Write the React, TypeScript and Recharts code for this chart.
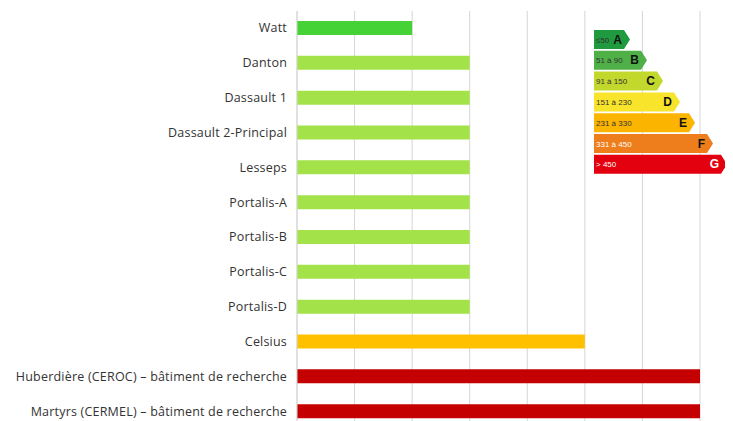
import { BarChart, Bar, XAxis, YAxis, CartesianGrid, Cell } from "recharts";

// Bâtiments et classe énergétique (1 = A ... 7 = G)
const BUILDINGS = [
  "Watt",
  "Danton",
  "Dassault 1",
  "Dassault 2-Principal",
  "Lesseps",
  "Portalis-A",
  "Portalis-B",
  "Portalis-C",
  "Portalis-D",
  "Celsius",
  "Huberdière (CEROC) – bâtiment de recherche",
  "Martyrs (CERMEL) – bâtiment de recherche",
];
const CLASS_INDEX = [2, 3, 3, 3, 3, 3, 3, 3, 3, 5, 7, 7];
const BAR_COLORS: Record<number, string> = {
  2: "#44d236",
  3: "#a4e24a",
  5: "#ffc000",
  7: "#c40000",
};
const X_TICKS = [0, 1, 2, 3, 4, 5, 6, 7];

// Étiquette énergie
const LABEL_LETTERS = ["A", "B", "C", "D", "E", "F", "G"];
const LABEL_RANGES = ["≤50", "51 à 90", "91 à 150", "151 à 230", "231 à 330", "331 à 450", "> 450"];
const LABEL_COLORS = ["#1f9a3e", "#4fb048", "#c3d82c", "#f8e42a", "#fbb400", "#ee7d1c", "#e3000f"];
const LABEL_TIPS = [630, 647, 663, 680, 695, 713, 727];

const data = BUILDINGS.map((name, i) => ({ name, value: CLASS_INDEX[i] }));

// tick sans retour à la ligne
function BuildingTick(props: any) {
  const { x, y, payload } = props;
  return (
    <text
      x={x - 2}
      y={y}
      dy={4}
      textAnchor="end"
      fontSize={12.5}
      letterSpacing={0.2}
      fill="#333"
      fontFamily="Open Sans"
    >
      {payload.value}
    </text>
  );
}

function EnergyLabel() {
  const left = 586;
  const top = 22;
  const h = 19;
  const step = 20.8;
  return (
    <svg width={160} height={170} style={{ position: "absolute", left: 0, top: 0, overflow: "visible" }}>
      {LABEL_LETTERS.map((letter, i) => {
        const x0 = left;
        const y0 = top + i * step;
        const tip = LABEL_TIPS[i] - 8;
        const body = tip - 6;
        const light = i >= 5;
        return (
          <g key={letter}>
            <polygon
              points={`${x0},${y0} ${body},${y0} ${tip},${y0 + h / 2} ${body},${y0 + h} ${x0},${y0 + h}`}
              fill={LABEL_COLORS[i]}
            />
            <text x={x0 + 2} y={y0 + h / 2 + 3} fontSize={8} fill={light ? "#fff" : "#333"} fontFamily="Arial, sans-serif">
              {LABEL_RANGES[i]}
            </text>
            <text
              x={body - 2}
              y={y0 + h / 2 + 4}
              textAnchor="end"
              fontSize={12}
              fontWeight="bold"
              fill={i === 6 ? "#fff" : "#111"}
              fontFamily="Arial, sans-serif"
            >
              {letter}
            </text>
          </g>
        );
      })}
    </svg>
  );
}

export default function App() {
  return (
    <div style={{ position: "relative", width: 725, height: 413, overflow: "visible" }}>
      <BarChart
        width={725}
        height={421}
        data={data}
        layout="vertical"
        margin={{ top: 3, right: 33, left: 0, bottom: 0 }}
        barCategoryGap={0}
      >
        <CartesianGrid stroke="#d6d6d6" horizontal={false} />
        <XAxis type="number" domain={[0, 7]} ticks={X_TICKS} hide />
        <YAxis
          type="category"
          dataKey="name"
          width={289}
          tick={<BuildingTick />}
          axisLine={{ stroke: "#d6d6d6" }}
          tickLine={false}
          interval={0}
        />
        <Bar dataKey="value" barSize={14} isAnimationActive={false}>
          {data.map((d, i) => (
            <Cell key={`c-${i}`} fill={BAR_COLORS[d.value]} />
          ))}
        </Bar>
      </BarChart>
      <EnergyLabel />
    </div>
  );
}
